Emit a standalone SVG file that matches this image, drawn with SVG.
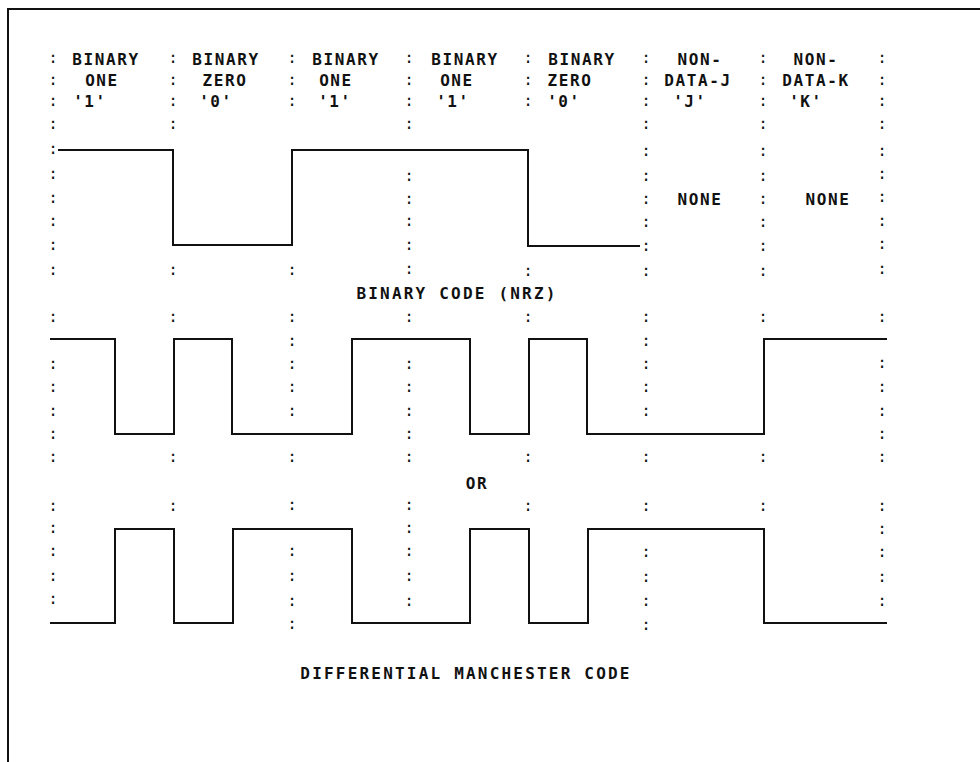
<svg xmlns="http://www.w3.org/2000/svg" width="980" height="762" viewBox="0 0 980 762">
<style>
.t{font-family:"DejaVu Sans Mono","Liberation Mono",monospace;font-weight:bold;font-size:16px;letter-spacing:1.6px;text-anchor:middle;fill:#111}
.cap{letter-spacing:2.2px}
.c{font-family:"DejaVu Sans Mono","Liberation Mono",monospace;font-size:16px;text-anchor:middle;fill:#111}
.w{fill:none;stroke:#111;stroke-width:2;stroke-linejoin:miter}
.b{fill:none;stroke:#111;stroke-width:2}
</style>
<rect width="980" height="762" fill="#fff"/>
<g id="border">
<path class="b" d="M8,762 V9 H980"/>
</g>
<g id="header">
<text class="t" x="106" y="65">BINARY</text>
<text class="t" x="226" y="65">BINARY</text>
<text class="t" x="346" y="65">BINARY</text>
<text class="t" x="465" y="65">BINARY</text>
<text class="t" x="582" y="65">BINARY</text>
<text class="t" x="700" y="65">NON-</text>
<text class="t" x="816" y="65">NON-</text>
<text class="t" x="102" y="86">ONE</text>
<text class="t" x="225" y="86">ZERO</text>
<text class="t" x="336" y="86">ONE</text>
<text class="t" x="457" y="86">ONE</text>
<text class="t" x="570" y="86">ZERO</text>
<text class="t" x="698" y="86">DATA-J</text>
<text class="t" x="816" y="86">DATA-K</text>
<text class="t" x="90" y="107">'1'</text>
<text class="t" x="216" y="107">'0'</text>
<text class="t" x="335" y="107">'1'</text>
<text class="t" x="453" y="107">'1'</text>
<text class="t" x="564" y="107">'0'</text>
<text class="t" x="690" y="107">'J'</text>
<text class="t" x="806" y="107">'K'</text>
</g>
<g id="labels">
<text class="t" x="700" y="205">NONE</text>
<text class="t" x="828" y="205">NONE</text>
<text class="t cap" x="457" y="299">BINARY CODE (NRZ)</text>
<text class="t" x="477" y="489">OR</text>
<text class="t cap" x="466" y="679">DIFFERENTIAL MANCHESTER CODE</text>
</g>
<g id="waveforms">
<path id="nrz" class="w" d="M58,150 H173 V245 H292 V150 H528 V246 H640"/>
<path id="manchester-a" class="w" d="M50,339 H115 V434 H174 V339 H232 V434 H352 V339 H470 V434 H529 V339 H587 V434 H764 V339 H887"/>
<path id="manchester-b" class="w" d="M50,623 H115 V529 H174 V623 H233 V529 H352 V623 H470 V529 H529 V623 H588 V529 H764 V623 H887"/>
</g>
<g id="colons">
<text class="c" x="53" y="63">:</text><text class="c" x="173" y="63">:</text><text class="c" x="292" y="63">:</text><text class="c" x="409" y="63">:</text><text class="c" x="528" y="63">:</text><text class="c" x="646" y="63">:</text><text class="c" x="763" y="63">:</text><text class="c" x="882" y="63">:</text>
<text class="c" x="53" y="85">:</text><text class="c" x="173" y="85">:</text><text class="c" x="292" y="85">:</text><text class="c" x="409" y="85">:</text><text class="c" x="528" y="85">:</text><text class="c" x="646" y="85">:</text><text class="c" x="763" y="85">:</text><text class="c" x="882" y="85">:</text>
<text class="c" x="53" y="106">:</text><text class="c" x="173" y="106">:</text><text class="c" x="292" y="106">:</text><text class="c" x="409" y="106">:</text><text class="c" x="528" y="106">:</text><text class="c" x="646" y="106">:</text><text class="c" x="763" y="106">:</text><text class="c" x="882" y="106">:</text>
<text class="c" x="53" y="129">:</text><text class="c" x="173" y="129">:</text><text class="c" x="409" y="129">:</text><text class="c" x="646" y="129">:</text><text class="c" x="763" y="129">:</text><text class="c" x="882" y="129">:</text>
<text class="c" x="53" y="154">:</text><text class="c" x="53" y="179">:</text><text class="c" x="53" y="203">:</text><text class="c" x="53" y="226">:</text><text class="c" x="53" y="250">:</text><text class="c" x="53" y="275">:</text>
<text class="c" x="173" y="275">:</text><text class="c" x="292" y="275">:</text><text class="c" x="528" y="276">:</text>
<text class="c" x="409" y="181">:</text><text class="c" x="409" y="204">:</text><text class="c" x="409" y="226">:</text><text class="c" x="409" y="250">:</text><text class="c" x="409" y="274">:</text>
<text class="c" x="646" y="156">:</text><text class="c" x="646" y="181">:</text><text class="c" x="646" y="204">:</text><text class="c" x="646" y="227">:</text><text class="c" x="646" y="251">:</text><text class="c" x="646" y="276">:</text>
<text class="c" x="763" y="156">:</text><text class="c" x="763" y="181">:</text><text class="c" x="763" y="204">:</text><text class="c" x="763" y="227">:</text><text class="c" x="763" y="251">:</text><text class="c" x="763" y="276">:</text>
<text class="c" x="882" y="156">:</text><text class="c" x="882" y="179">:</text><text class="c" x="882" y="202">:</text><text class="c" x="882" y="226">:</text><text class="c" x="882" y="249">:</text><text class="c" x="882" y="274">:</text>
<text class="c" x="53" y="322">:</text><text class="c" x="173" y="322">:</text><text class="c" x="292" y="322">:</text><text class="c" x="409" y="322">:</text><text class="c" x="528" y="322">:</text><text class="c" x="646" y="322">:</text><text class="c" x="763" y="322">:</text><text class="c" x="882" y="322">:</text>
<text class="c" x="53" y="369">:</text><text class="c" x="53" y="392">:</text><text class="c" x="53" y="416">:</text><text class="c" x="53" y="439">:</text><text class="c" x="53" y="462">:</text>
<text class="c" x="173" y="462">:</text><text class="c" x="528" y="462">:</text><text class="c" x="763" y="462">:</text>
<text class="c" x="292" y="346">:</text><text class="c" x="292" y="369">:</text><text class="c" x="292" y="392">:</text><text class="c" x="292" y="416">:</text><text class="c" x="292" y="462">:</text>
<text class="c" x="409" y="369">:</text><text class="c" x="409" y="392">:</text><text class="c" x="409" y="416">:</text><text class="c" x="409" y="439">:</text><text class="c" x="409" y="462">:</text>
<text class="c" x="646" y="346">:</text><text class="c" x="646" y="369">:</text><text class="c" x="646" y="392">:</text><text class="c" x="646" y="416">:</text><text class="c" x="646" y="462">:</text>
<text class="c" x="882" y="368">:</text><text class="c" x="882" y="392">:</text><text class="c" x="882" y="416">:</text><text class="c" x="882" y="439">:</text><text class="c" x="882" y="462">:</text>
<text class="c" x="53" y="511">:</text><text class="c" x="53" y="533">:</text><text class="c" x="53" y="556">:</text><text class="c" x="53" y="581">:</text><text class="c" x="53" y="604">:</text>
<text class="c" x="173" y="511">:</text><text class="c" x="528" y="511">:</text><text class="c" x="763" y="511">:</text>
<text class="c" x="292" y="510">:</text><text class="c" x="292" y="556">:</text><text class="c" x="292" y="581">:</text><text class="c" x="292" y="606">:</text><text class="c" x="292" y="629">:</text>
<text class="c" x="409" y="510">:</text><text class="c" x="409" y="533">:</text><text class="c" x="409" y="556">:</text><text class="c" x="409" y="581">:</text><text class="c" x="409" y="606">:</text>
<text class="c" x="646" y="511">:</text><text class="c" x="646" y="557">:</text><text class="c" x="646" y="582">:</text><text class="c" x="646" y="606">:</text><text class="c" x="646" y="630">:</text>
<text class="c" x="882" y="511">:</text><text class="c" x="882" y="534">:</text><text class="c" x="882" y="557">:</text><text class="c" x="882" y="582">:</text><text class="c" x="882" y="606">:</text>
</g>
</svg>
